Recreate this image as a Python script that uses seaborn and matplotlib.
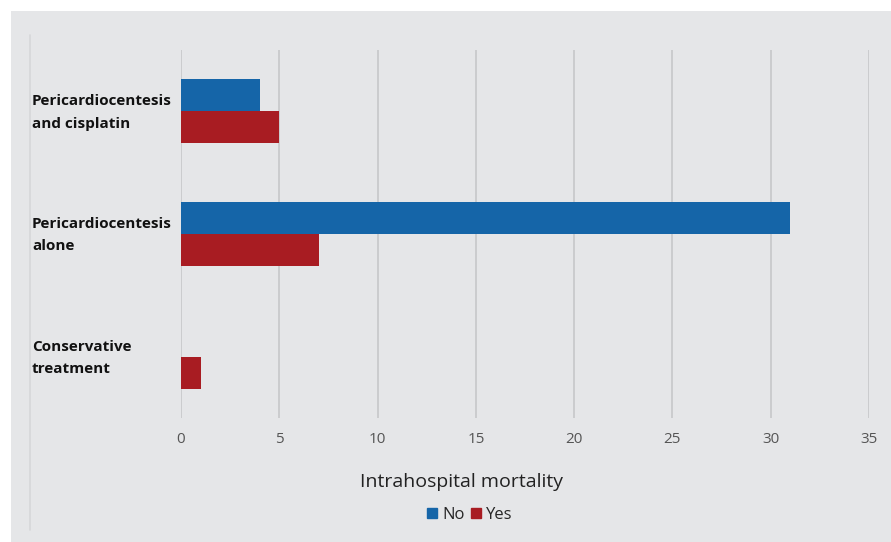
import matplotlib
matplotlib.use("Agg")
import matplotlib.pyplot as plt
import matplotlib.transforms as mtransforms
import pandas as pd
import seaborn as sns
from matplotlib.lines import Line2D
from matplotlib.patches import Rectangle

# Data
categories = ["Pericardiocentesis\nand cisplatin", "Pericardiocentesis\nalone", "Conservative\ntreatment"]
no_values = [4, 31, 0]
yes_values = [5, 7, 1]
series_names = ["No", "Yes"]
x_ticks = [0, 5, 10, 15, 20, 25, 30, 35]

BG = "#e5e6e8"
COLORS = ["#1565a8", "#a81c22"]

df = pd.DataFrame({
    "treatment": categories * 2,
    "count": no_values + yes_values,
    "mortality": [series_names[0]] * 3 + [series_names[1]] * 3,
})

sns.set_style("white")
plt.rcParams["font.family"] = ["Open Sans", "DejaVu Sans"]

fig = plt.figure(figsize=(8.91, 5.42), dpi=100, facecolor="white")
# gray panel + faint left rule
fig.patches.append(Rectangle((11 / 891, 0), 1, 1 - 11 / 542, transform=fig.transFigure,
                             facecolor=BG, edgecolor="none", zorder=-10))
fig.lines.append(Line2D([30 / 891, 30 / 891], [1 - 35 / 542, 1 - 530 / 542],
                        transform=fig.transFigure, color="#d6d7d9", lw=1.2))

ax = fig.add_axes([181 / 891, 1 - 418 / 542, (869 - 181) / 891, (418 - 50) / 542])
ax.set_facecolor(BG)

sns.barplot(data=df, y="treatment", x="count", hue="mortality", order=categories,
            hue_order=series_names, palette=COLORS, orient="h", width=0.52,
            ax=ax, legend=False, saturation=1, edgecolor="none", linewidth=0)

ax.set_xlim(0, 35)
ax.set_ylim(2.5, -0.5)
ax.set_xticks(x_ticks)
ax.grid(axis="x", color="#c9cacc", lw=1.3)
ax.set_axisbelow(True)
for s in ax.spines.values():
    s.set_visible(False)
ax.tick_params(axis="both", length=0)
ax.tick_params(axis="x", pad=10, labelsize=11, labelcolor="#555555")
ax.set_yticklabels([])
ax.set_ylabel("")
ax.set_xlabel("")

# left aligned bold category labels (x in figure coords, y in data coords)
trans = mtransforms.blended_transform_factory(fig.transFigure, ax.transData)
for i, lab in enumerate(categories):
    ax.text(32 / 891, i + 0.01, lab, ha="left", va="center", fontsize=11,
            fontweight="bold", color="#111111", linespacing=1.75, transform=trans)

fig.text(461 / 891, 1 - 482 / 542, "Intrahospital mortality", ha="center", va="center",
         fontsize=14, color="#222222")

handles = [Rectangle((0, 0), 1, 1, color=c) for c in COLORS]
fig.legend(handles, series_names, loc="center", bbox_to_anchor=(470 / 891, 1 - 515 / 542),
           ncol=2, frameon=False, fontsize=12, handlelength=0.6, handleheight=0.6,
           handletextpad=0.3, columnspacing=0.4)

fig.savefig("out.png", dpi=100, facecolor="white")
